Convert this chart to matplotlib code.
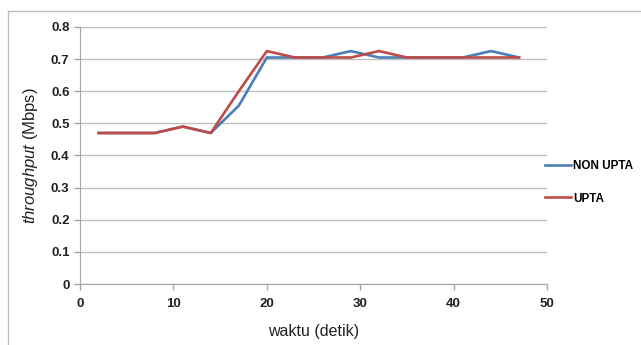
import matplotlib
matplotlib.use('Agg')
import matplotlib.pyplot as plt
from matplotlib.lines import Line2D

plt.rcParams['font.family'] = ['Liberation Sans', 'DejaVu Sans']
plt.rcParams['mathtext.fontset'] = 'custom'
plt.rcParams['mathtext.it'] = 'Liberation Sans:italic'
plt.rcParams['mathtext.rm'] = 'Liberation Sans'

# data
waktu = [2, 5, 8, 11, 14, 17, 20, 23, 26, 29, 32, 35, 38, 41, 44, 47]
non_upta = [0.47, 0.47, 0.47, 0.49, 0.47, 0.555, 0.705, 0.705, 0.705, 0.725,
            0.705, 0.705, 0.705, 0.705, 0.725, 0.705]
upta = [0.47, 0.47, 0.47, 0.49, 0.47, 0.6, 0.725, 0.705, 0.705, 0.705,
        0.725, 0.705, 0.705, 0.705, 0.705, 0.705]
y_ticks = [0, 0.1, 0.2, 0.3, 0.4, 0.5, 0.6, 0.7, 0.8]
y_labels = ['0', '0.1', '0.2', '0.3', '0.4', '0.5', '0.6', '0.7', '0.8']
x_ticks = [0, 10, 20, 30, 40, 50]

fig = plt.figure(figsize=(6.41, 3.45), dpi=100)
ax = fig.add_axes([0.1248, 0.1768, 0.7286, 0.745])

ax.plot(waktu, non_upta, color='#4A7EBB', lw=1.9, label='NON UPTA')
ax.plot(waktu, upta, color='#BE4B48', lw=1.9, label='UPTA')

ax.set_xlim(0, 50)
ax.set_ylim(0, 0.8)
ax.set_yticks(y_ticks)
ax.set_yticklabels(y_labels)
ax.set_xticks(x_ticks)
ax.grid(axis='y', color='#BFBFBF', lw=1)
ax.set_axisbelow(True)

for s in ['top', 'right']:
    ax.spines[s].set_visible(False)
for s in ['left', 'bottom']:
    ax.spines[s].set_color('#A6A6A6')
ax.tick_params(axis='both', colors='#A6A6A6', length=4, width=1, labelcolor='#222222',
               labelsize=9.5)
ax.tick_params(axis='x', pad=6)
for lab in ax.get_xticklabels() + ax.get_yticklabels():
    lab.set_fontweight('bold')

ax.set_xlabel('waktu (detik)', fontsize=11.5, color='#222222', labelpad=10)
ax.set_ylabel(r'$\it{throughput}$ (Mbps)', fontsize=12, color='#222222', labelpad=8)

leg = ax.legend(loc='center left', bbox_to_anchor=(0.996, 0.396), frameon=False,
                borderaxespad=0, borderpad=0,
                handlelength=2.2, handletextpad=0.15, labelspacing=1.75,
                prop={'size': 8.5, 'weight': 'bold'})

# chart frame (top and left)
fig.add_artist(Line2D([8 / 641, 8 / 641], [0, 1 - 11 / 345], color='#BFBFBF', lw=1))
fig.add_artist(Line2D([8 / 641, 1], [1 - 11 / 345, 1 - 11 / 345], color='#BFBFBF', lw=1))

fig.savefig('out.png', dpi=100)
